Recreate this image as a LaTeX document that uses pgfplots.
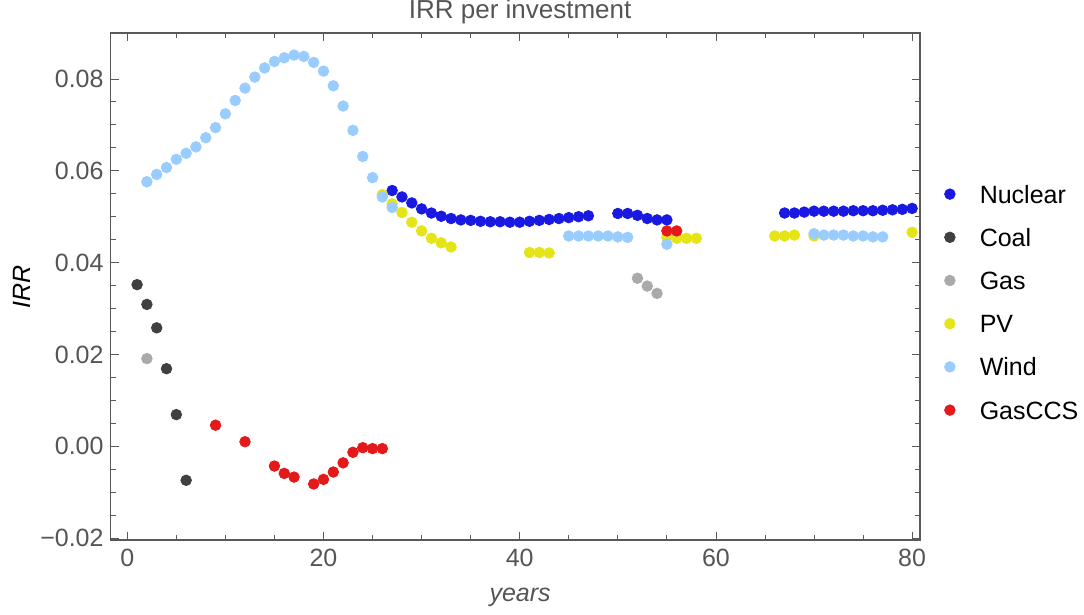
\documentclass[border=0pt]{standalone}
\usepackage{pgfplots}
\pgfplotsset{compat=1.18}
\usepackage{fontspec}
\setmainfont{Liberation Sans}
\definecolor{cNuc}{RGB}{25,25,225}
\definecolor{cCoal}{RGB}{64,64,64}
\definecolor{cGas}{RGB}{170,170,170}
\definecolor{cPV}{RGB}{228,228,25}
\definecolor{cWind}{RGB}{153,204,255}
\definecolor{cCCS}{RGB}{228,25,25}
\definecolor{tgray}{RGB}{85,85,85}
\begin{document}
\begin{tikzpicture}
\useasboundingbox (-55.3pt,-37.5pt) rectangle (486.7pt,270pt);
\begin{axis}[
 at={(0pt,0pt)}, anchor=south west,
 scale only axis, width=404.7pt, height=253.5pt,
 xmin=-1.7, xmax=80.8, ymin=-0.0204, ymax=0.09,
 clip=false,
 xtick={0,20,40,60,80}, xticklabels={0,20,40,60,80},
 minor x tick num=3,
 ytick={-0.02,0,0.02,0.04,0.06,0.08},
 yticklabels={−0.02,0.00,0.02,0.04,0.06,0.08},
 minor y tick num=3,
 scaled y ticks=false, scaled x ticks=false,
 tick align=inside,
 xticklabel pos=lower, yticklabel pos=left,
 major tick length=4pt, minor tick length=2.5pt,
 every tick/.style={gray!70!black, line width=0.4pt},
 axis line style={gray!70!black, line width=0.6pt},
 tick label style={font=\fontsize{12.5}{14}\selectfont, text=tgray},
 xticklabel style={yshift=-1pt},
 xlabel={years}, ylabel={IRR},
 xlabel style={at={(axis description cs:0.506,-0.1124)}, anchor=center, font=\fontsize{12.5}{14}\selectfont\itshape, text=tgray},
 ylabel style={at={(axis description cs:-0.1095,0.5)}, anchor=center, font=\fontsize{12.5}{14}\selectfont\itshape, text=black},
 legend style={at={(axis description cs:1.0304,0.700)}, anchor=north west, draw=none, fill=none,
   inner sep=0pt, outer sep=0pt, row sep=12.6pt, column sep=12.3pt,
   font=\fontsize{12.5}{14}\selectfont,
   nodes={inner sep=0pt, outer sep=0pt, text height=9pt, text depth=0pt}},
 legend cell align=left,
 legend image code/.code={\draw[#1] plot coordinates {(0pt,0pt)};},
 only marks, mark=*, mark size=2.65pt,
]
\addplot[forget plot, no marks, draw=gray!65, line width=0.6pt] coordinates {(-1.7,0) (80.8,0)};
\addplot[forget plot, no marks, draw=black, line width=0.5pt, dash pattern=on 2.5pt off 2.2pt] coordinates {(-1.7,0.04) (80.8,0.04)};

\addplot[only marks, mark=*, color=cNuc] table {
x y
27 0.0557
28 0.0543
29 0.0530
30 0.0517
31 0.0508
32 0.0501
33 0.0496
34 0.0493
35 0.0492
36 0.0490
37 0.0489
38 0.0489
39 0.0488
40 0.0488
41 0.0490
42 0.0492
43 0.0494
44 0.0496
45 0.0498
46 0.0500
47 0.0502
50 0.0507
51 0.0507
52 0.0503
53 0.0496
54 0.0493
55 0.0493
67 0.0508
68 0.0508
69 0.0510
70 0.0512
71 0.0512
72 0.0512
73 0.0512
74 0.0513
75 0.0513
76 0.0513
77 0.0514
78 0.0515
79 0.0516
80 0.0518
};
\addlegendentry{Nuclear}

\addplot[only marks, mark=*, color=cCoal] table {
x y
1 0.0352
2 0.0309
3 0.0258
4 0.0169
5 0.0069
6 -0.0074
};
\addlegendentry{Coal}

\addplot[only marks, mark=*, color=cGas] table {
x y
2 0.0191
52 0.0366
53 0.0349
54 0.0333
};
\addlegendentry{Gas}

\addplot[only marks, mark=*, color=cPV] table {
x y
26 0.0548
27 0.0528
28 0.0509
29 0.0488
30 0.0469
31 0.0453
32 0.0443
33 0.0434
41 0.0422
42 0.0422
43 0.0421
55 0.0455
56 0.0453
57 0.0453
58 0.0453
66 0.0458
67 0.0458
68 0.0460
70 0.0458
80 0.0466
};
\addlegendentry{PV}

\addplot[only marks, mark=*, color=cWind] table {
x y
2 0.0576
3 0.0592
4 0.0607
5 0.0625
6 0.0638
7 0.0652
8 0.0672
9 0.0694
10 0.0724
11 0.0753
12 0.0780
13 0.0804
14 0.0824
15 0.0838
16 0.0846
17 0.0852
18 0.0849
19 0.0836
20 0.0817
21 0.0785
22 0.0741
23 0.0688
24 0.0631
25 0.0585
26 0.0543
27 0.0520
45 0.0458
46 0.0458
47 0.0458
48 0.0458
49 0.0458
50 0.0456
51 0.0455
55 0.0440
70 0.0463
71 0.0460
72 0.0460
73 0.0460
74 0.0458
75 0.0458
76 0.0456
77 0.0456
};
\addlegendentry{Wind}

\addplot[only marks, mark=*, color=cCCS] table {
x y
9 0.0046
12 0.0010
15 -0.0043
16 -0.0059
17 -0.0067
19 -0.0082
20 -0.0072
21 -0.0056
22 -0.0036
23 -0.0013
24 -0.0003
25 -0.0005
26 -0.0005
55 0.0469
56 0.0469
};
\addlegendentry{GasCCS}
\node[anchor=center, font=\fontsize{13}{15}\selectfont, text=tgray, inner sep=0pt] at (axis description cs:0.506,1.041) {IRR per investment};
\end{axis}
\end{tikzpicture}
\end{document}
